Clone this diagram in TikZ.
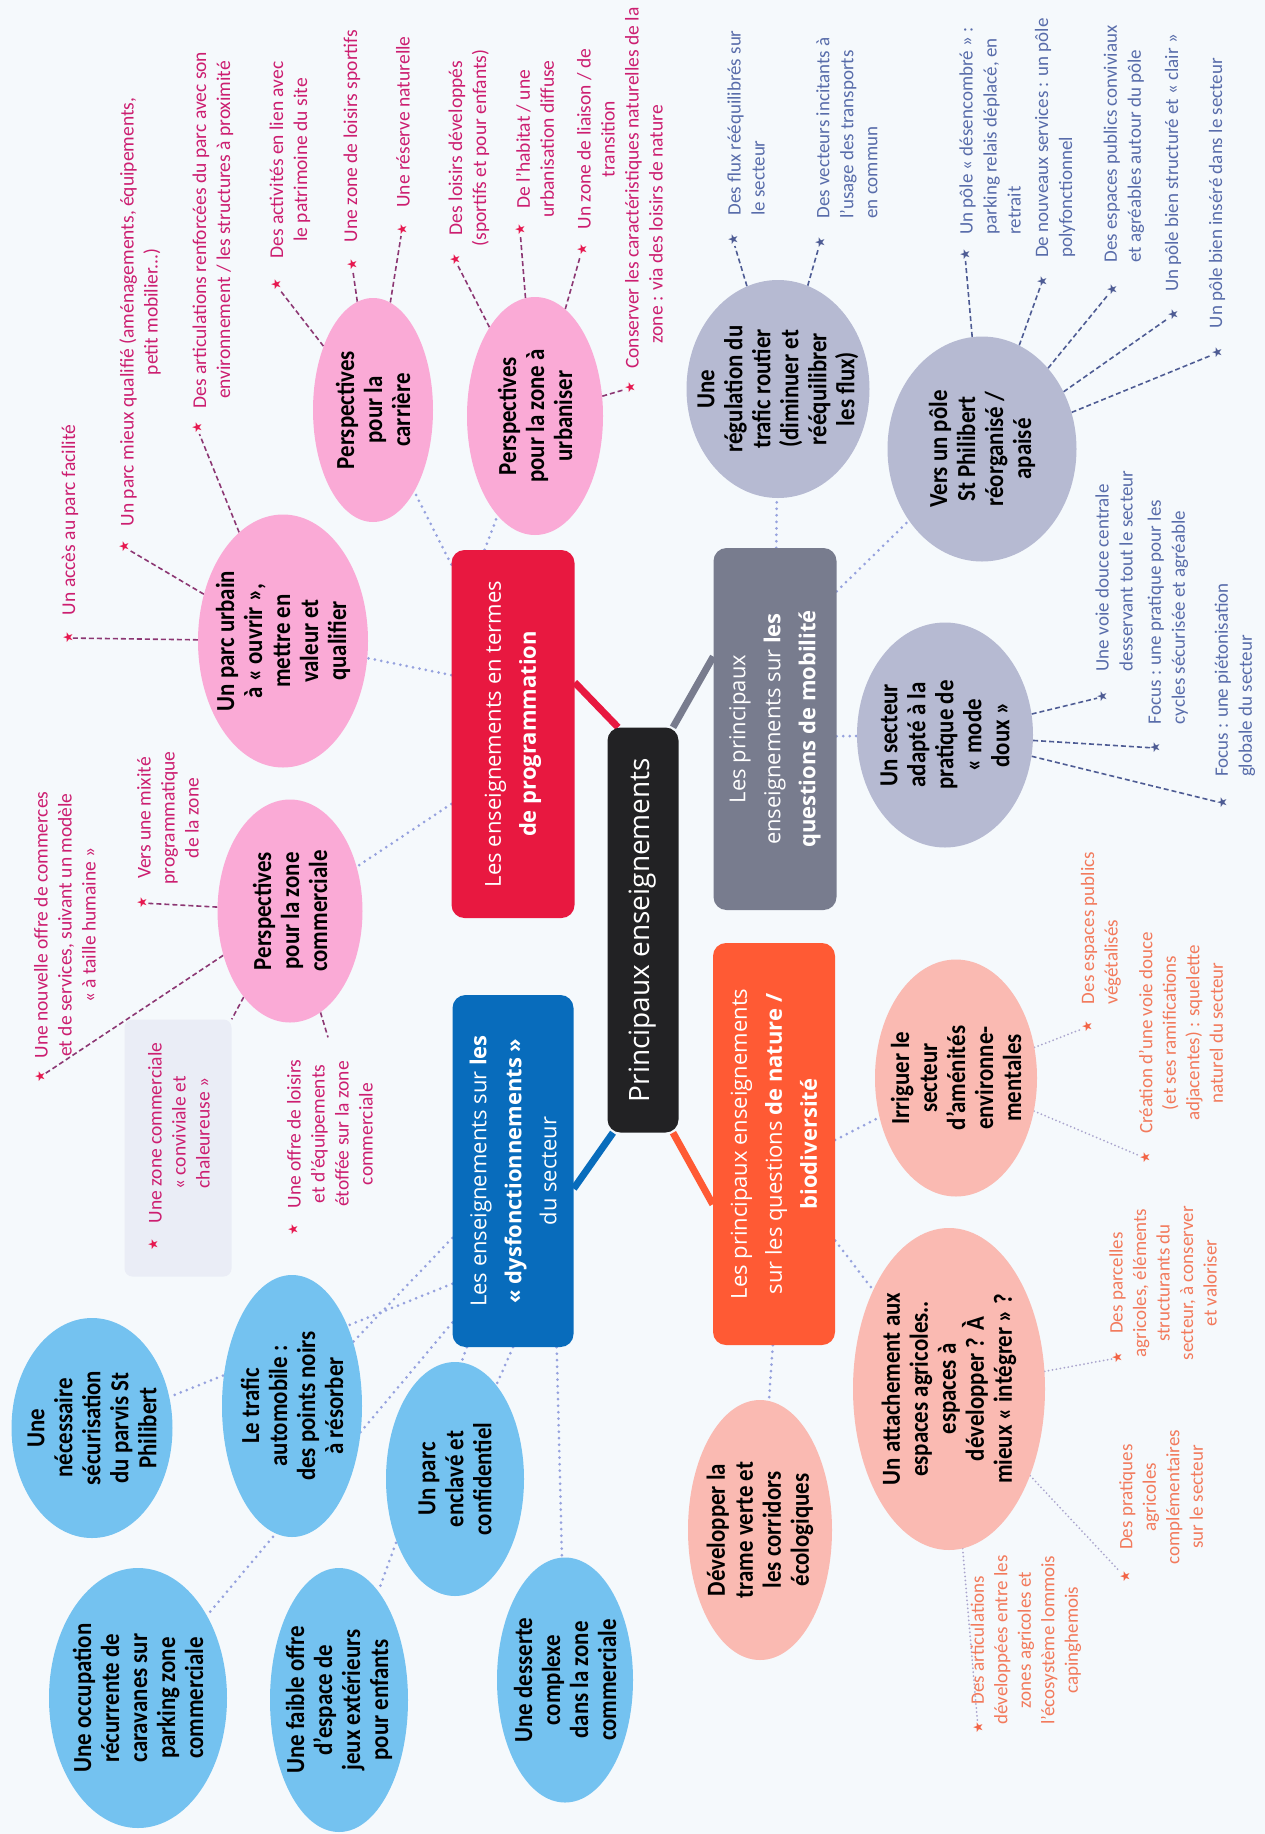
\documentclass[tikz,border=0pt]{standalone}
\usepackage{fontspec}
\setmainfont{Carlito}
\newfontfamily\boxfont{Open Sans}
\newfontfamily\ellfont[FakeStretch=0.88]{Carlito}
\newfontfamily\symfont{DejaVu Sans}
\usetikzlibrary{shapes.geometric,calc,backgrounds}

\definecolor{bgc}{RGB}{245,249,252}
\definecolor{redboxc}{RGB}{232,24,64}
\definecolor{grayboxc}{RGB}{120,124,142}
\definecolor{blueboxc}{RGB}{8,108,188}
\definecolor{orangeboxc}{RGB}{255,90,52}
\definecolor{blackboxc}{RGB}{34,34,36}
\definecolor{pinkellc}{RGB}{250,170,214}
\definecolor{blueellc}{RGB}{116,194,240}
\definecolor{grayellc}{RGB}{182,186,210}
\definecolor{salmonellc}{RGB}{250,186,178}
\definecolor{pinktxtc}{RGB}{204,30,112}
\definecolor{pinkstarc}{RGB}{230,25,80}
\definecolor{pinkdashc}{RGB}{140,55,115}
\definecolor{graytxtc}{RGB}{88,108,170}
\definecolor{graystarc}{RGB}{78,92,148}
\definecolor{graydashc}{RGB}{78,92,148}
\definecolor{orangetxtc}{RGB}{242,122,92}
\definecolor{orangestarc}{RGB}{242,100,70}
\definecolor{orangedashc}{RGB}{170,165,205}
\definecolor{dotc}{RGB}{150,162,222}
\definecolor{zonec}{RGB}{234,237,246}

\tikzset{
  mainbox/.style={rectangle, rounded corners=13pt, rotate=90, inner sep=0pt, align=center, text=white, font=\boxfont\fontsize{22}{35}\selectfont},
  ellshape/.style={ellipse, rotate=90, inner sep=0pt, draw=none},
  elltxt/.style={rotate=90, inner sep=0pt, align=center, text=black, font=\ellfont\bfseries\fontsize{26}{28}\selectfont},
  pk ell/.style={ellshape, fill=pinkellc},
  bl ell/.style={ellshape, fill=blueellc},
  gy ell/.style={ellshape, fill=grayellc},
  or ell/.style={ellshape, fill=salmonellc},
  ltext/.style={rotate=90, inner sep=0pt, font=\fontsize{19.5}{24}\selectfont},
  lstar/.style={rotate=90, inner sep=0pt, font=\symfont\fontsize{13}{13}\selectfont},
  pk star/.style={text=pinkstarc},
  pk text/.style={text=pinktxtc},
  pk dash/.style={draw=pinkdashc, line width=1.6pt, dash pattern=on 5pt off 3pt},
  gy star/.style={text=graystarc},
  gy text/.style={text=graytxtc, font=\fontsize{19}{24}\selectfont},
  gy dash/.style={draw=graydashc, line width=1.6pt, dash pattern=on 5pt off 3pt},
  or star/.style={text=orangestarc},
  or text/.style={text=orangetxtc, font=\fontsize{19}{23.5}\selectfont},
  or dash/.style={draw=orangedashc, line width=2pt, dash pattern=on 0pt off 4pt, line cap=round},
  dotline/.style={draw=dotc, line width=3pt, dash pattern=on 0pt off 6.5pt, line cap=round},
  branch/.style={line width=7pt},
}

% name, style, x, y, size along text, size across, text
\newcommand\ellnode[7]{%
  \node[#2, minimum width=#5pt, minimum height=#6pt] (#1) at (#3,#4) {};
  \node[elltxt] (#1x) at (#1) {#7};}
% name, star x, star y, text x, text y, group, align, text
\newcommand\starlab[8]{%
  \node[lstar, #6 star] (s#1) at (#2,#3) {★};
  \node[ltext, #6 text, align=#7] (t#1) at (#4,#5) {#8};}

\begin{document}
\begin{tikzpicture}[x=1pt,y=-1pt]
\begin{scope}[on background layer]
  \fill[bgc] (0,0) rectangle (1265,1834);
\end{scope}
\useasboundingbox (0,0) rectangle (1265,1834);

% main boxes
\node[mainbox, fill=blackboxc, minimum width=405pt, minimum height=71pt, font=\boxfont\fontsize{28}{34}\selectfont] (black) at (643,930) {Principaux enseignements};
\node[mainbox, fill=redboxc, minimum width=368pt, minimum height=123pt] (red) at (513,734) {Les enseignements en termes\\\textbf{de programmation}};
\node[mainbox, fill=grayboxc, minimum width=362pt, minimum height=123pt] (gray) at (775,729) {Les principaux\\enseignements sur \textbf{les}\\\textbf{questions de mobilité}};
\node[mainbox, fill=blueboxc, minimum width=352pt, minimum height=121pt] (blue) at (513,1171) {Les enseignements sur \textbf{les}\\\textbf{« dysfonctionnements »}\\du secteur};
\node[mainbox, fill=orangeboxc, minimum width=402pt, minimum height=122pt] (orange) at (774,1144) {Les principaux enseignements\\sur les questions \textbf{de nature /}\\\textbf{biodiversité}};

% programmation ellipses
\ellnode{e1}{pk ell}{283}{641}{253}{170}{Un parc urbain\\à « ouvrir »,\\mettre en\\valeur et\\qualifier}
\ellnode{e2}{pk ell}{373}{410}{224}{120}{Perspectives\\pour la\\carrière}
\ellnode{e3}{pk ell}{535}{416}{238}{136}{Perspectives\\pour la zone à\\urbaniser}
\ellnode{e4}{pk ell}{290}{911}{223}{145}{Perspectives\\pour la zone\\commerciale}
% dysfonctionnements ellipses
\ellnode{e5}{bl ell}{292}{1406}{262}{140}{Le trafic\\automobile :\\des points noirs\\à résorber}
\ellnode{e6}{bl ell}{92}{1428}{220}{161}{Une\\nécessaire\\sécurisation\\du parvis St\\Philibert}
\ellnode{e7}{bl ell}{138}{1698}{260}{178}{Une occupation\\récurrente de\\caravanes sur\\parking zone\\commerciale}
\ellnode{e8}{bl ell}{339}{1700}{264}{138}{Une faible offre\\d’espace de\\jeux extérieurs\\pour enfants}
\ellnode{e9}{bl ell}{455}{1479}{234}{138}{Un parc\\enclavé et\\confidentiel}
\ellnode{e10}{bl ell}{565}{1680}{245}{136}{Une desserte\\complexe\\dans la zone\\commerciale}
% nature ellipses
\ellnode{e11}{or ell}{760}{1530}{260}{144}{Développer la\\trame verte et\\les corridors\\écologiques}
\ellnode{e12}{or ell}{949}{1389}{322}{192}{Un attachement aux\\espaces agricoles..\\espaces à\\développer ? À\\mieux « intégrer » ?}
\ellnode{e13}{or ell}{956}{1078}{237}{162}{Irriguer le\\secteur\\d’aménités\\environne-\\mentales}
% mobilité ellipses
\ellnode{e14}{gy ell}{778}{389}{218}{183}{Une\\régulation du\\trafic routier\\(diminuer et\\rééquilibrer\\les flux)}
\ellnode{e15}{gy ell}{982}{449}{225}{189}{Vers un pôle\\St Philibert\\réorganisé /\\apaisé}
\ellnode{e16}{gy ell}{945}{735}{225}{176}{Un secteur\\adapté à la\\pratique de\\« mode\\doux »}

% light box behind one label
\node[fill=zonec, rounded corners=8pt, minimum width=107pt, minimum height=257pt, inner sep=0pt] (zbox) at (178,1148) {};

% labels
\starlab{1}{68}{638}{70}{520}{pk}{center}{Un accès au parc facilité}
\starlab{2}{124}{547}{140}{312}{pk}{center}{Un parc mieux qualifié (aménagements, équipements,\\petit mobilier...)}
\starlab{3}{197}{428}{213}{230}{pk}{center}{Des articulations renforcées du parc avec son\\environnement / les structures à proximité}
\starlab{4}{276}{285}{290}{160}{pk}{center}{Des activités en lien avec\\le patrimoine du site}
\starlab{5}{352}{265}{352}{136}{pk}{center}{Une zone de loisirs sportifs}
\starlab{6}{402}{230}{403}{122}{pk}{center}{Une réserve naturelle}
\starlab{7}{455}{260}{469}{148}{pk}{center}{Des loisirs développés\\(sportifs et pour enfants)}
\starlab{8}{520}{230}{535}{139}{pk}{center}{De l’habitat / une\\urbanisation diffuse}
\starlab{9}{582}{250}{596}{139}{pk}{center}{Un zone de liaison / de\\transition}
\starlab{10}{630}{388}{644}{188}{pk}{left}{Conserver les caractéristiques naturelles de la\\\hspace*{25pt}zone : via des loisirs de nature}
\starlab{11}{142}{903}{168}{818}{pk}{center}{Vers une mixité\\programmatique\\de la zone}
\starlab{12}{40}{1077}{65}{925}{pk}{center}{Une nouvelle offre de commerces\\et de services, suivant un modèle\\« à taille humaine »}
\starlab{13}{153}{1245}{179}{1133}{pk}{center}{Une zone commerciale\\« conviviale et\\chaleureuse »}
\starlab{14}{293}{1230}{330}{1134}{pk}{center}{Une offre de loisirs\\et d’équipements\\étoffée sur la zone\\commerciale}
\starlab{15}{733}{240}{746}{123}{gy}{left}{Des flux rééquilibrés sur\\le secteur}
\starlab{16}{820}{243}{847}{128}{gy}{left}{Des vecteurs incitants à\\l’usage des transports\\en commun}
\starlab{17}{965}{255}{990}{131}{gy}{left}{Un pôle « désencombré » :\\parking relais déplacé, en\\retrait}
\starlab{18}{1042}{282}{1055}{138}{gy}{left}{De nouveaux services : un pôle\\polyfonctionnel}
\starlab{19}{1112}{290}{1124}{144}{gy}{left}{Des espaces publics conviviaux\\et agréables autour du pôle}
\starlab{20}{1173}{315}{1173}{163}{gy}{left}{Un pôle bien structuré et « clair »}
\starlab{21}{1217}{353}{1217}{193}{gy}{left}{Un pôle bien inséré dans le secteur}
\starlab{22}{1102}{697}{1114}{571}{gy}{left}{Une voie douce centrale\\desservant tout le secteur}
\starlab{23}{1155}{748}{1168}{612}{gy}{left}{Focus : une pratique pour les\\cycles sécurisée et agréable}
\starlab{24}{1222}{803}{1235}{680}{gy}{left}{Focus : une piétonisation\\globale du secteur}
\starlab{25}{1087}{1027}{1101}{928}{or}{left}{Des espaces publics\\végétalisés}
\starlab{26}{1145}{1158}{1181}{1033}{or}{center}{Création d’une voie douce\\(et ses ramifications\\adjacentes) : squelette\\naturel du secteur}
\starlab{27}{1117}{1358}{1163}{1283}{or}{center}{Des parcelles\\agricoles, éléments\\structurants du\\secteur, à conserver\\et valoriser}
\starlab{28}{1125}{1577}{1161}{1497}{or}{center}{Des pratiques\\agricoles\\complémentaires\\sur le secteur}
\starlab{29}{978}{1728}{1026}{1640}{or}{center}{Des articulations\\développées entre les\\zones agricoles et\\l’écosystème lommois\\capinghemois}

\begin{scope}[on background layer]
  % thick branches from the centre
  \draw[branch, redboxc] ($(black.north east)!0.15!(black.south east)$) -- ($(red.south east)!0.36!(red.south west)$);
  \draw[branch, grayboxc] ($(black.north east)!0.92!(black.south east)$) -- ($(gray.north east)!0.30!(gray.north west)$);
  \draw[branch, blueboxc] ($(black.north west)!0.08!(black.south west)$) -- ($(blue.south east)!0.55!(blue.south west)$);
  \draw[branch, orangeboxc] ($(black.north west)!0.92!(black.south west)$) -- ($(orange.north east)!0.65!(orange.north west)$);
  % dotted links box -> ellipses
  \draw[dotline] ($(red.north east)!0.04!(red.north west)$) -- (e2);
  \draw[dotline] ($(red.north east)!0.27!(red.south east)$) -- (e3);
  \draw[dotline] ($(red.north east)!0.34!(red.north west)$) -- (e1);
  \draw[dotline] ($(red.north east)!0.69!(red.north west)$) -- (e4);
  \draw[dotline] ($(gray.north east)!0.51!(gray.south east)$) -- (e14);
  \draw[dotline] ($(gray.south east)!0.12!(gray.south west)$) -- (e15);
  \draw[dotline] ($(gray.south east)!0.52!(gray.south west)$) -- (e16);
  \draw[dotline] ($(blue.north east)!0.69!(blue.north west)$) -- (e5);
  \draw[dotline] ($(blue.north east)!0.82!(blue.north west)$) -- (e6);
  \draw[dotline] ($(blue.north east)!0.93!(blue.north west)$) -- (e7);
  \draw[dotline] ($(blue.north west)!0.12!(blue.south west)$) -- (e8);
  \draw[dotline] ($(blue.north west)!0.50!(blue.south west)$) -- (e9);
  \draw[dotline] ($(blue.north west)!0.86!(blue.south west)$) -- (e10);
  \draw[dotline] ($(orange.south east)!0.49!(orange.south west)$) -- (e13);
  \draw[dotline] ($(orange.south east)!0.74!(orange.south west)$) -- (e12);
  \draw[dotline] ($(orange.north west)!0.49!(orange.south west)$) -- (e11);
  % label connectors
  \draw[pk dash] (e1) -- (s1);
  \draw[pk dash] (e1) -- (s2);
  \draw[pk dash] (e1) -- (s3);
  \draw[pk dash] (e2) -- (s4);
  \draw[pk dash] (e2) -- (s5);
  \draw[pk dash] (e2) -- (s6);
  \draw[pk dash] (e3) -- (s7);
  \draw[pk dash] (e3) -- (s8);
  \draw[pk dash] (e3) -- (s9);
  \draw[pk dash] (e3) -- (s10);
  \draw[pk dash] (e4) -- (s11);
  \draw[pk dash] (e4) -- (s12);
  \draw[pk dash] (e4) -- (zbox.north east);
  \draw[pk dash] (e4) -- ($(t14.east)+(-2,-22)$);
  \draw[gy dash] (e14) -- (s15);
  \draw[gy dash] (e14) -- (s16);
  \draw[gy dash] (e15) -- (s17);
  \draw[gy dash] (e15) -- (s18);
  \draw[gy dash] (e15) -- (s19);
  \draw[gy dash] (e15) -- (s20);
  \draw[gy dash] (e15) -- (s21);
  \draw[gy dash] (e16) -- (s22);
  \draw[gy dash] (e16) -- (s23);
  \draw[gy dash] (e16) -- (s24);
  \draw[or dash] (e13) -- (s25);
  \draw[or dash] (e13) -- (s26);
  \draw[or dash] (e12) -- (s27);
  \draw[or dash] (e12) -- (s28);
  \draw[or dash] (e12) -- (s29);
\end{scope}
\end{tikzpicture}
\end{document}
